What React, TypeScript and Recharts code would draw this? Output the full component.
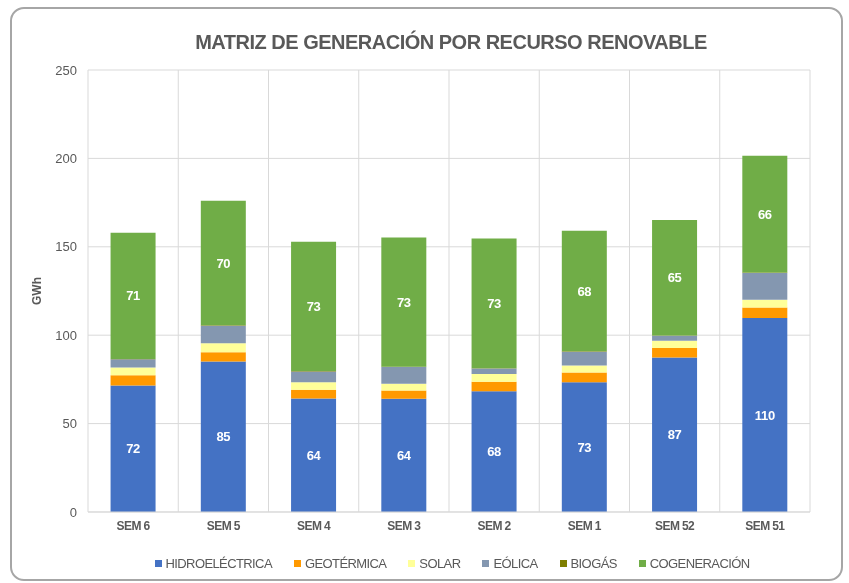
import React from 'react';
import { BarChart, Bar, XAxis, YAxis, CartesianGrid, Legend, LabelList, Label } from 'recharts';

const weeks = ['SEM 6', 'SEM 5', 'SEM 4', 'SEM 3', 'SEM 2', 'SEM 1', 'SEM 52', 'SEM 51'];
const hidro = [71.6, 85.1, 64.2, 64.1, 68.3, 73.4, 87.4, 109.7];
const geotermica = [5.7, 5.3, 5.0, 4.6, 5.4, 5.5, 5.4, 5.9];
const solar = [4.4, 5.0, 4.2, 3.8, 4.3, 4.0, 4.0, 4.4];
const eolica = [4.7, 10.0, 6.1, 9.5, 3.1, 7.8, 2.9, 15.2];
const biogas = [0.2, 0.2, 0.2, 0.2, 0.2, 0.2, 0.2, 0.2];
const cogeneracion = [71.3, 70.4, 73.2, 73.1, 73.4, 68.2, 65.3, 66.1];
const yTicks = [0, 50, 100, 150, 200, 250];
const seriesNames = ['HIDROELÉCTRICA', 'GEOTÉRMICA', 'SOLAR', 'EÓLICA', 'BIOGÁS', 'COGENERACIÓN'];

const data = weeks.map((w, i) => ({
  name: w,
  hidro: hidro[i],
  geo: geotermica[i],
  solar: solar[i],
  eolica: eolica[i],
  biogas: biogas[i],
  cogen: cogeneracion[i],
}));

const FONT = "'Liberation Sans', Arial, sans-serif";
const GRID = '#d9d9d9';
const TEXT = '#595959';

const fmt = (v: any) => Math.round(Number(v));

const LegendContent = (props: any) => {
  const items = [...(props.payload || [])].sort(
    (a: any, b: any) => seriesNames.indexOf(a.value) - seriesNames.indexOf(b.value)
  );
  return (
    <div
      style={{
        display: 'flex',
        justifyContent: 'center',
        fontFamily: FONT,
        fontSize: 13,
        letterSpacing: -0.6,
        color: TEXT,
      }}
    >
      {items.map((it: any) => (
        <div key={it.value} style={{ display: 'flex', alignItems: 'center', margin: '0 11px' }}>
          <span style={{ width: 7, height: 7, background: it.color, display: 'inline-block', marginRight: 4 }} />
          {it.value}
        </div>
      ))}
    </div>
  );
};

const labelStyle = { fill: '#fff', fontSize: 13, fontWeight: 'bold', fontFamily: FONT, letterSpacing: -0.3 };

export default function App() {
  return (
    <div style={{ position: 'fixed', left: 0, top: 0, width: 849, height: 583, background: '#fff' }}>
      <div
        style={{
          position: 'absolute',
          left: 10,
          top: 7,
          width: 829,
          height: 570,
          border: '2px solid #a6a6a6',
          borderRadius: 14,
        }}
      />
      <div
        style={{
          position: 'absolute',
          left: 0,
          top: 31,
          width: 902,
          textAlign: 'center',
          fontFamily: FONT,
          fontWeight: 'bold',
          fontSize: 20,
          letterSpacing: -0.5,
          color: TEXT,
        }}
      >
        MATRIZ DE GENERACIÓN POR RECURSO RENOVABLE
      </div>
      <div style={{ position: 'absolute', left: 0, top: 0 }}>
        <BarChart
          width={849}
          height={583}
          data={data}
          margin={{ top: 70, right: 39, left: 20, bottom: 32 }}
          barCategoryGap="25%"
        >
          <CartesianGrid
            stroke={GRID}
            verticalCoordinatesGenerator={({ offset }: any) =>
              Array.from({ length: weeks.length + 1 }, (_, i) => offset.left + (i * offset.width) / weeks.length)
            }
          />
          <XAxis
            dataKey="name"
            height={24}
            tickLine={false}
            axisLine={{ stroke: GRID }}
            tickMargin={3}
            tick={{ fill: TEXT, fontSize: 12, fontWeight: 'bold', fontFamily: FONT, letterSpacing: -0.6 }}
          />
          <YAxis
            width={68}
            domain={[0, 250]}
            ticks={yTicks}
            tickLine={false}
            axisLine={false}
            tickMargin={5}
            tick={{ fill: TEXT, fontSize: 13, fontFamily: FONT }}
          >
            <Label
              value="GWh"
              angle={-90}
              position="center"
              dx={-17}
              style={{ fill: TEXT, fontSize: 12, fontWeight: 'bold', fontFamily: FONT }}
            />
          </YAxis>
          <Legend verticalAlign="bottom" content={<LegendContent />} wrapperStyle={{ bottom: 12, left: 57 }} />
          <Bar dataKey="hidro" name={seriesNames[0]} stackId="a" fill="#4472C4" isAnimationActive={false}>
            <LabelList dataKey="hidro" position="center" formatter={fmt} style={labelStyle} />
          </Bar>
          <Bar dataKey="geo" name={seriesNames[1]} stackId="a" fill="#FF9900" isAnimationActive={false} />
          <Bar dataKey="solar" name={seriesNames[2]} stackId="a" fill="#FFFF99" isAnimationActive={false} />
          <Bar dataKey="eolica" name={seriesNames[3]} stackId="a" fill="#8497B0" isAnimationActive={false} />
          <Bar dataKey="biogas" name={seriesNames[4]} stackId="a" fill="#7F7F00" isAnimationActive={false} />
          <Bar dataKey="cogen" name={seriesNames[5]} stackId="a" fill="#70AD47" isAnimationActive={false}>
            <LabelList dataKey="cogen" position="center" formatter={fmt} style={labelStyle} />
          </Bar>
        </BarChart>
      </div>
    </div>
  );
}
